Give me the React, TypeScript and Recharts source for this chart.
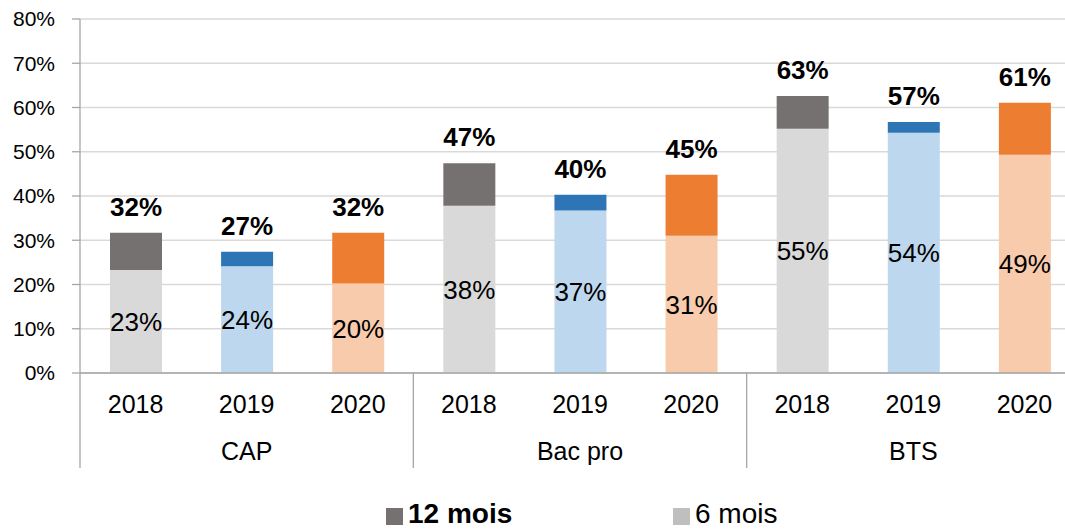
import React from 'react';
import { BarChart, Bar, XAxis, YAxis, CartesianGrid, Cell, LabelList } from 'recharts';

const years = ['2018', '2019', '2020', '2018', '2019', '2020', '2018', '2019', '2020'];
const groups = ['CAP', 'CAP', 'CAP', 'Bac pro', 'Bac pro', 'Bac pro', 'BTS', 'BTS', 'BTS'];
const sixMonths = [23.3, 24.1, 20.2, 37.8, 36.7, 31.0, 55.2, 54.3, 49.3];
const twelveMonths = [31.7, 27.4, 31.7, 47.4, 40.3, 44.8, 62.6, 56.7, 61.1];
const yTicks = [0, 10, 20, 30, 40, 50, 60, 70, 80];

const lightColors: Record<string, string> = { '2018': '#D9D9D9', '2019': '#BDD7EE', '2020': '#F8CBAD' };
const darkColors: Record<string, string> = { '2018': '#767171', '2019': '#2E75B6', '2020': '#ED7D31' };

const legendItems = [
  { label: '12 mois', color: '#767171', bold: true },
  { label: '6 mois', color: '#BFBFBF', bold: false },
];

const data = years.map((y, i) => ({
  key: `${groups[i]}-${y}`,
  year: y,
  group: groups[i],
  m6: sixMonths[i],
  inc: twelveMonths[i] - sixMonths[i],
  m12: twelveMonths[i],
}));

const FONT = '"Liberation Sans", Arial, sans-serif';
const AXIS = '#A6A6A6';

const YearTick = (props: any) => {
  const { x, y, payload, index } = props;
  const half = payload && payload.offset ? payload.offset : 55.5;
  const isGroupStart = index % 3 === 0;
  return (
    <g>
      {isGroupStart && (
        <line x1={x - half} x2={x - half} y1={y} y2={y + 95} stroke={AXIS} strokeWidth={1.3} />
      )}
      <text x={x} y={y + 22} dy="0.71em" textAnchor="middle" fontSize={25} fill="#000" fontFamily={FONT}>
        {years[index]}
      </text>
    </g>
  );
};

const GroupTick = (props: any) => {
  const { x, y, index } = props;
  if (index % 3 !== 1) return <g />;
  return (
    <text x={x} y={y + 24} dy="0.71em" textAnchor="middle" fontSize={25} fill="#000" fontFamily={FONT}>
      {groups[index]}
    </text>
  );
};

const LegendBlock = () => (
  <div style={{ position: 'absolute', left: 0, top: 500, width: 1065, height: 28, fontFamily: FONT }}>
    {legendItems.map((it, i) => (
      <div
        key={it.label}
        style={{
          position: 'absolute',
          left: i === 0 ? 386 : 673,
          top: 0,
          display: 'flex',
          alignItems: 'center',
          fontSize: 28,
          fontWeight: it.bold ? 700 : 400,
          color: '#000',
          whiteSpace: 'nowrap',
          lineHeight: '28px',
          height: 28,
        }}
      >
        <span style={{ display: 'inline-block', width: 17, height: 17, background: it.color, marginRight: 5, marginTop: 4 }} />
        {it.label}
      </div>
    ))}
  </div>
);

export default function App() {
  return (
    <div style={{ position: 'fixed', left: 0, top: 0, width: 1065, height: 530, overflow: 'hidden', background: '#fff' }}>
      <BarChart
        width={1080}
        height={478}
        data={data}
        margin={{ top: 19, right: 0, left: 0, bottom: 0 }}
        style={{ fontFamily: FONT }}
      >
        <CartesianGrid vertical={false} stroke="#D9D9D9" strokeWidth={1.3} />
        <YAxis
          width={80}
          domain={[0, 80]}
          ticks={yTicks}
          interval={0}
          tickFormatter={(v: number) => `${v}%`}
          axisLine={{ stroke: AXIS, strokeWidth: 1.3 }}
          tickLine={{ stroke: AXIS, strokeWidth: 1.3 }}
          tickSize={8}
          tickMargin={17}
          tick={{ fontSize: 21, fill: '#000', fontFamily: FONT }}
        />
        <XAxis
          dataKey="key"
          xAxisId={0}
          interval={0}
          height={45}
          axisLine={{ stroke: AXIS, strokeWidth: 1.3 }}
          tickLine={false}
          tickSize={0}
          tickMargin={0}
          tick={<YearTick />}
        />
        <XAxis
          dataKey="key"
          xAxisId="g"
          interval={0}
          height={60}
          axisLine={false}
          tickLine={false}
          tickSize={0}
          tickMargin={0}
          tick={<GroupTick />}
        />
        <Bar dataKey="m6" stackId="a" barSize={52} isAnimationActive={false}>
          {data.map((d) => (
            <Cell key={d.key} fill={lightColors[d.year]} />
          ))}
          <LabelList
            dataKey="m6"
            position="center"
            formatter={(v: any) => `${Math.round(Number(v))}%`}
            style={{ fontSize: 26, fill: '#000', fontFamily: FONT }}
          />
        </Bar>
        <Bar dataKey="inc" stackId="a" barSize={52} isAnimationActive={false}>
          {data.map((d) => (
            <Cell key={d.key} fill={darkColors[d.year]} />
          ))}
          <LabelList
            dataKey="m12"
            position="top"
            offset={17}
            formatter={(v: any) => `${Math.round(Number(v))}%`}
            style={{ fontSize: 26, fontWeight: 700, fill: '#000', fontFamily: FONT }}
          />
        </Bar>
      </BarChart>
      <LegendBlock />
    </div>
  );
}
